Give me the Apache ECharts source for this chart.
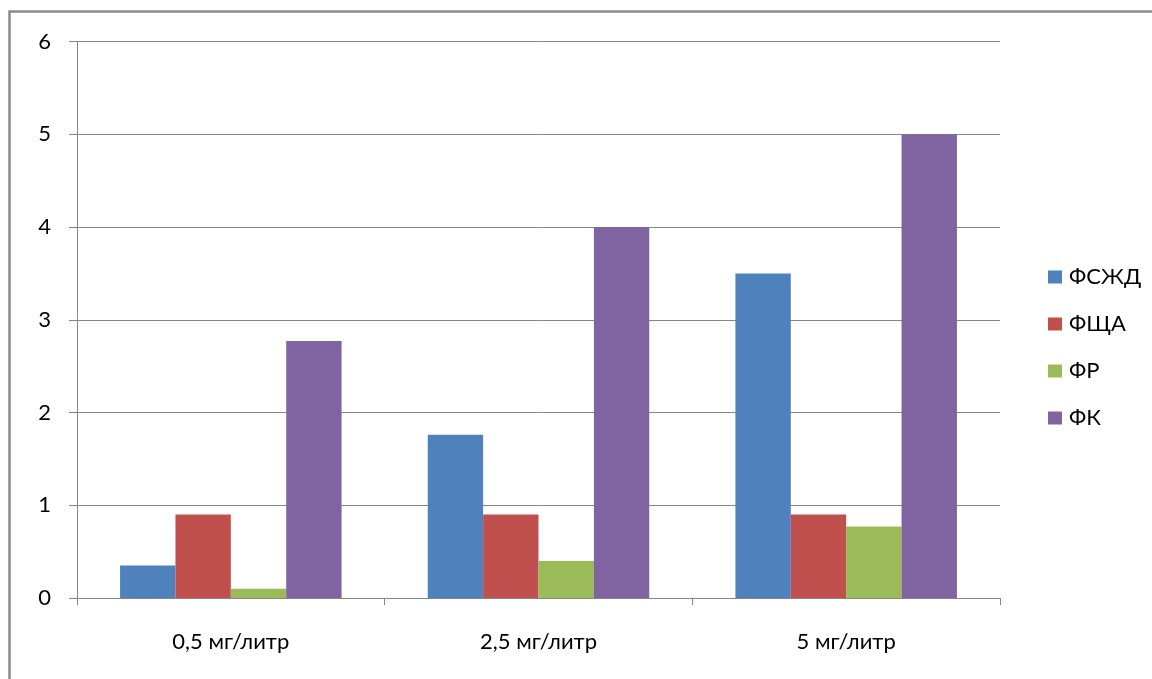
<!DOCTYPE html>
<html>
<head>
<meta charset="utf-8">
<style>
  html, body { margin: 0; padding: 0; background: #fff; }
  #chart { width: 1152px; height: 679px; }
</style>
<script src="https://cdn.jsdelivr.net/npm/echarts@6/dist/echarts.min.js"></script>
</head>
<body>
<div id="chart"></div>
<script>
// Concentrations along the category axis
const categories = ['0,5 мг/литр', '2,5 мг/литр', '5 мг/литр'];

// Series names and values
const seriesNames = ['ФСЖД', 'ФЩА', 'ФР', 'ФК'];
const valuesFSZhD = [0.35, 1.76, 3.5];
const valuesFShchA = [0.9, 0.9, 0.9];
const valuesFR = [0.1, 0.4, 0.77];
const valuesFK = [2.77, 4, 5];
const seriesColors = ['#4F81BD', '#C0504D', '#9BBB59', '#8064A2'];

// Value axis range
const yMin = 0, yMax = 6, yStep = 1;

const allValues = [valuesFSZhD, valuesFShchA, valuesFR, valuesFK];
const fontFamily = 'Lato, "Open Sans", "Noto Sans", sans-serif';

const chart = echarts.init(document.getElementById('chart'));
chart.setOption({
  backgroundColor: '#ffffff',
  animation: false,
  textStyle: { fontFamily: fontFamily },
  graphic: [{
    type: 'rect',
    shape: { x: 9.5, y: 11.5, width: 1200, height: 720 },
    style: { fill: 'none', stroke: '#8a8a8a', lineWidth: 2.5 },
    silent: true
  }],
  grid: { left: 77, right: 152, top: 41.5, bottom: 81 },
  legend: {
    orient: 'vertical',
    left: 1043,
    top: 261,
    itemWidth: 14,
    itemHeight: 13,
    itemGap: 25,
    icon: 'rect',
    textStyle: { fontSize: 22, color: '#000', fontFamily: fontFamily, padding: [0, 0, 0, 2] },
    data: seriesNames
  },
  xAxis: {
    type: 'category',
    data: categories,
    axisLine: { lineStyle: { color: '#868686', width: 1 } },
    axisTick: { show: true, length: 7, alignWithLabel: false, lineStyle: { color: '#868686' } },
    axisLabel: { fontSize: 22, color: '#000', margin: 33, fontFamily: fontFamily }
  },
  yAxis: {
    type: 'value',
    min: yMin,
    max: yMax,
    interval: yStep,
    axisLine: { show: true, lineStyle: { color: '#868686', width: 1 } },
    axisTick: { show: true, length: 8, lineStyle: { color: '#868686' } },
    axisLabel: { fontSize: 22, color: '#000', margin: 26, fontFamily: fontFamily },
    splitLine: { show: true, lineStyle: { color: '#868686', width: 1 } }
  },
  series: seriesNames.map((name, i) => ({
    name: name,
    type: 'bar',
    data: allValues[i],
    barGap: '0%',
    barCategoryGap: '28%',
    itemStyle: { color: seriesColors[i] }
  }))
});
</script>
</body>
</html>
